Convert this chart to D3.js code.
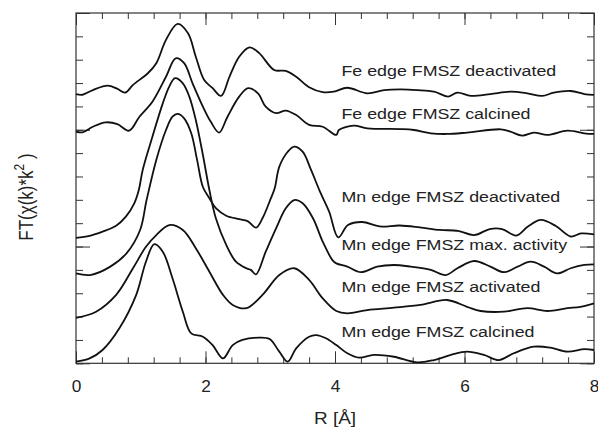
<!DOCTYPE html>
<html>
<head>
<meta charset="utf-8">
<script src="https://cdn.jsdelivr.net/npm/d3@7"></script>
<style>
    body { margin: 0; background: #fff; }
    text { font-family: "Liberation Sans", Arial, sans-serif; fill: #222; }
</style>
</head>
<body>
<div id="chart"></div>
<script>
/* ----------------------- Data (R in Å, FT magnitude offset) ----------------------- */
const feDeactivated = [[0,11.53],[0.10,11.50],[0.26,11.70],[0.49,11.89],[0.64,11.75],[0.76,11.59],[0.88,11.92],
    [1.11,12.42],[1.24,12.85],[1.39,13.85],[1.57,14.53],[1.73,14.13],[1.85,13.13],[1.98,12.13],[2.11,11.78],
    [2.24,11.45],[2.37,12.27],[2.52,13.13],[2.68,13.53],[2.83,13.28],[3.06,12.56],[3.24,12.52],[3.40,12.27],
    [3.60,11.82],[3.81,11.61],[3.98,11.63],[4.19,11.80],[4.50,11.56],[4.76,11.70],[5.01,11.73],[5.27,11.70],
    [5.53,11.63],[5.75,11.42],[5.89,11.59],[6.10,11.45],[6.40,11.53],[6.71,11.63],[6.97,11.56],[7.20,11.45],
    [7.38,11.59],[7.64,11.66],[7.85,11.53],[8.00,11.49]];
const feCalcined = [[0,9.92],[0.10,9.89],[0.26,10.13],[0.46,10.32],[0.64,10.24],[0.82,9.96],[0.98,10.56],
    [1.18,11.20],[1.39,12.27],[1.54,13.06],[1.67,12.85],[1.80,11.99],[1.96,10.99],[2.08,10.35],[2.21,9.88],
    [2.34,10.56],[2.52,11.42],[2.66,11.78],[2.81,11.56],[2.93,10.99],[3.09,10.71],[3.24,10.82],[3.40,10.63],
    [3.60,10.21],[3.81,10.13],[4.02,9.78],[4.06,9.99],[4.29,10.18],[4.50,10.06],[5.01,10.03],[5.22,9.99],
    [5.48,9.85],[5.73,9.82],[6.04,9.88],[6.56,10.02],[6.71,9.92],[6.89,9.75],[7.07,9.88],[7.28,9.78],
    [7.59,9.96],[7.85,9.85],[8.00,9.82]];
const mnDeactivated = [[0,3.85],[0.22,3.78],[0.53,4.14],[0.78,4.71],[0.99,5.71],[1.09,6.99],[1.24,8.71],
    [1.39,9.99],[1.49,10.56],[1.57,10.68],[1.67,10.49],[1.78,9.85],[1.87,8.71],[1.96,7.55],[2.06,7.07],
    [2.16,6.64],[2.32,6.32],[2.52,6.17],[2.65,6.09],[2.78,5.81],[2.88,6.21],[3.01,7.07],[3.07,7.51],
    [3.14,8.42],[3.27,9.06],[3.37,9.28],[3.50,9.06],[3.63,8.28],[3.77,7.34],[3.91,6.49],[4.05,5.39],
    [4.20,5.92],[4.42,6.05],[4.69,5.86],[5.00,5.90],[5.31,5.82],[5.62,5.71],[5.90,5.67],[6.15,5.49],
    [6.39,5.75],[6.58,5.75],[6.80,5.47],[6.98,5.86],[7.18,6.14],[7.41,5.88],[7.64,5.43],[7.80,5.56],[8.00,5.52]];
const mnMaxActivity = [[0,5.37],[0.21,5.46],[0.41,5.64],[0.62,5.89],[0.77,6.28],[0.90,6.85],[0.97,7.42],
    [1.03,8.28],[1.18,9.70],[1.34,11.13],[1.44,11.85],[1.53,12.21],[1.65,11.99],[1.75,11.42],[1.85,10.42],
    [1.96,8.92],[2.06,7.42],[2.16,6.21],[2.32,5.07],[2.47,4.35],[2.63,4.07],[2.70,4.00],[2.78,3.81],
    [2.93,4.78],[3.09,5.78],[3.24,6.64],[3.37,6.99],[3.50,6.85],[3.66,6.21],[3.81,5.21],[3.96,4.42],
    [4.02,4.28],[4.19,4.14],[4.40,3.90],[4.65,4.14],[4.91,4.21],[5.17,4.14],[5.48,4.00],[5.71,3.78],
    [5.89,4.07],[6.15,4.38],[6.40,4.14],[6.61,3.90],[6.82,4.14],[7.02,4.35],[7.23,4.14],[7.43,3.85],
    [7.64,4.07],[7.85,4.21],[8.00,4.24]];
const mnActivated = [[0,1.95],[0.31,2.21],[0.62,2.93],[0.88,4.07],[1.08,4.99],[1.24,5.49],[1.44,5.92],
    [1.65,5.71],[1.85,4.93],[2.06,3.92],[2.27,2.93],[2.42,2.50],[2.63,2.36],[2.88,2.93],[3.14,3.78],
    [3.37,4.07],[3.60,3.57],[3.81,2.78],[4.02,2.24],[4.19,2.14],[4.50,2.28],[4.91,2.38],[5.32,2.50],
    [5.73,2.71],[6.04,2.42],[6.25,2.24],[6.61,2.21],[6.97,2.36],[7.28,2.24],[7.59,2.36],[7.79,2.42],[8.00,2.57]];
const mnCalcined = [[0,0.07],[0.21,0.21],[0.41,0.57],[0.67,1.50],[0.93,2.93],[1.08,4.35],[1.21,5.10],
    [1.34,4.78],[1.49,3.64],[1.65,2.21],[1.78,1.28],[1.96,1.14],[2.11,0.78],[2.27,0.21],[2.42,0.78],
    [2.57,1.00],[2.83,1.10],[2.99,1.04],[3.14,0.50],[3.27,0.07],[3.40,0.64],[3.60,1.14],[3.71,1.21],
    [3.86,1.07],[4.02,0.78],[4.19,0.43],[4.37,0.24],[4.60,0.36],[4.91,0.28],[5.27,0.04],[5.53,0.14],
    [5.79,0.36],[6.04,0.50],[6.30,0.36],[6.53,0.14],[6.76,0.43],[7.07,0.71],[7.33,0.67],[7.59,0.50],
    [7.85,0.61],[8.00,0.57]];

const seriesNames = ["Fe edge FMSZ deactivated", "Fe edge FMSZ calcined", "Mn edge FMSZ deactivated",
    "Mn edge FMSZ max. activity", "Mn edge FMSZ activated", "Mn edge FMSZ calcined"];
const seriesValues = [feDeactivated, feCalcined, mnDeactivated, mnMaxActivity, mnActivated, mnCalcined];
const labelLevels = [12.30, 10.46, 6.91, 4.85, 3.07, 1.14];
const xMajorTicks = [0, 2, 4, 6, 8];
const yMajorTicks = [0, 5, 10, 15];

/* ----------------------- Dimensions ----------------------- */
const W = 598, H = 427;
const margin = { top: 13, right: 4, bottom: 63.7, left: 76 };
const stretch = 1.15;   // glyphs in the original are a bit wide

const svg = d3.select("#chart").append("svg")
    .attr("width", W).attr("height", H)
    .style("display", "block");

const x = d3.scaleLinear().domain([0, 8]).range([margin.left, W - margin.right]);
const y = d3.scaleLinear().domain([0, 15]).range([H - margin.bottom, margin.top]);

const xMinor = d3.range(0, 8.001, 0.4);
const yMinor = d3.range(0, 15.001, 1);

/* ----------------------- Axes (ticks inside) ----------------------- */
function styleAxis(g) {
    g.select(".domain").remove();
    g.selectAll("line").attr("stroke", "#333").attr("stroke-width", 1);
}

svg.append("g").attr("transform", `translate(0,${y(0)})`)
    .call(d3.axisBottom(x).tickValues(xMinor).tickSize(-6).tickFormat(""))
    .call(styleAxis);
svg.append("g").attr("transform", `translate(0,${y(0)})`)
    .call(d3.axisBottom(x).tickValues(xMajorTicks).tickSize(-12).tickPadding(17).tickFormat(d3.format("d")))
    .call(styleAxis)
    .call(g => g.selectAll("text")
        .attr("fill", "#222").style("font-size", "16px")
        .attr("transform", "scale(1.08,1)"));

svg.append("g").attr("transform", `translate(0,${y(15)})`)
    .call(d3.axisTop(x).tickValues(xMinor).tickSize(-6).tickFormat(""))
    .call(styleAxis);
svg.append("g").attr("transform", `translate(0,${y(15)})`)
    .call(d3.axisTop(x).tickValues(xMajorTicks).tickSize(-12).tickFormat(""))
    .call(styleAxis);

svg.append("g").attr("transform", `translate(${x(0)},0)`)
    .call(d3.axisLeft(y).tickValues(yMinor).tickSize(-7).tickFormat(""))
    .call(styleAxis);
svg.append("g").attr("transform", `translate(${x(0)},0)`)
    .call(d3.axisLeft(y).tickValues(yMajorTicks).tickSize(-14).tickFormat(""))
    .call(styleAxis);

svg.append("g").attr("transform", `translate(${x(8)},0)`)
    .call(d3.axisRight(y).tickValues(yMinor).tickSize(-7).tickFormat(""))
    .call(styleAxis);
svg.append("g").attr("transform", `translate(${x(8)},0)`)
    .call(d3.axisRight(y).tickValues(yMajorTicks).tickSize(-14).tickFormat(""))
    .call(styleAxis);

svg.append("rect")
    .attr("x", x(0)).attr("y", y(15))
    .attr("width", x(8) - x(0)).attr("height", y(0) - y(15))
    .attr("fill", "none").attr("stroke", "#333").attr("stroke-width", 1.2);

/* ----------------------- Curves ----------------------- */
const line = d3.line()
    .x(d => x(d[0]))
    .y(d => y(d[1]))
    .curve(d3.curveCatmullRom.alpha(0.5));

svg.append("g").selectAll("path")
    .data(seriesValues)
    .enter().append("path")
    .attr("d", line)
    .attr("fill", "none")
    .attr("stroke", "#111")
    .attr("stroke-width", 1.8)
    .attr("stroke-linejoin", "round");

/* ----------------------- Labels ----------------------- */
svg.append("g").selectAll("text")
    .data(seriesNames)
    .enter().append("text")
    .attr("transform", (d, i) => `translate(${x(4.1)},${y(labelLevels[i])}) scale(${stretch},1)`)
    .style("font-size", "15.5px")
    .text(d => d);

svg.append("text")
    .attr("transform", `translate(${(x(0) + x(8)) / 2},424) scale(${stretch},1)`)
    .attr("text-anchor", "middle")
    .style("font-size", "16.5px")
    .text("R [Å]");

const yTitle = svg.append("text")
    .attr("transform", `translate(33,197) scale(${stretch},1) rotate(-90)`)
    .attr("text-anchor", "middle")
    .style("font-size", "17px");
yTitle.append("tspan").text("FT(χ(k)*k");
yTitle.append("tspan").attr("dy", -8).style("font-size", "12px").text("2");
yTitle.append("tspan").attr("dy", 8).text(" )");
</script>
</body>
</html>
